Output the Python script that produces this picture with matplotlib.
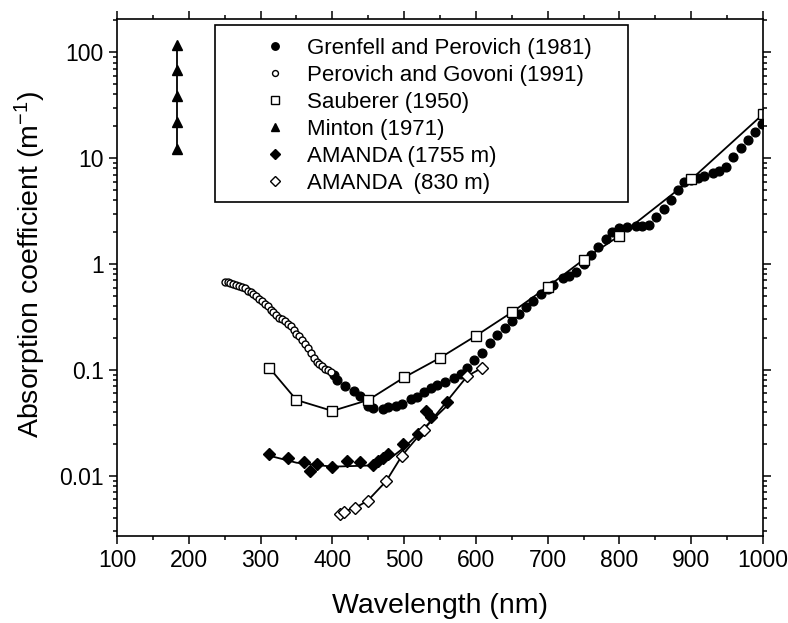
import matplotlib
matplotlib.use("Agg")
import matplotlib.pyplot as plt
from matplotlib.patches import Rectangle
from matplotlib.ticker import FixedLocator, LogLocator, MultipleLocator, NullFormatter

plt.rcParams["font.family"] = ["Liberation Sans", "DejaVu Sans"]
plt.rcParams["mathtext.default"] = "regular"

# Grenfell and Perovich (1981), filled circles
grenfell_nm = [402, 407, 418, 430, 439, 449, 457, 470, 478, 488, 497, 509, 518, 527, 537,
               546, 557, 569, 579, 588, 598, 609, 619, 630, 640, 650, 660, 670, 680, 690,
               700, 708, 721, 729, 739, 750, 760, 770, 781, 790, 799, 811, 823, 832, 841,
               851, 862, 872, 881, 890, 899, 909, 918, 930, 939, 948, 958, 969, 979, 989, 998]
grenfell_abs = [0.090, 0.081, 0.070, 0.063, 0.057, 0.046, 0.044, 0.043, 0.045, 0.046, 0.048,
                0.053, 0.056, 0.062, 0.067, 0.072, 0.077, 0.083, 0.091, 0.105, 0.125, 0.146,
                0.18, 0.216, 0.25, 0.29, 0.34, 0.39, 0.45, 0.52, 0.58, 0.64, 0.73, 0.77, 0.85,
                1.01, 1.23, 1.46, 1.74, 2.0, 2.2, 2.25, 2.3, 2.3, 2.35, 2.8, 3.3, 4.0, 5.0, 5.9,
                6.2, 6.5, 6.8, 7.3, 7.6, 8.3, 10.3, 12.5, 14.9, 17.6, 21.0]

# Perovich and Govoni (1991), open circles
perovich_nm = [250, 254, 258, 262, 266, 270, 274, 278, 282, 286, 290, 294, 298, 302, 306,
               310, 314, 318, 322, 326, 330, 334, 338, 342, 346, 350, 354, 358, 362, 366,
               370, 374, 378, 382, 386, 390, 394, 398]
perovich_abs = [0.68, 0.67, 0.66, 0.65, 0.64, 0.62, 0.61, 0.59, 0.56, 0.54, 0.52, 0.50, 0.47,
                0.45, 0.42, 0.40, 0.37, 0.35, 0.33, 0.31, 0.30, 0.29, 0.27, 0.26, 0.24, 0.22,
                0.21, 0.19, 0.175, 0.16, 0.145, 0.13, 0.12, 0.114, 0.108, 0.103, 0.099, 0.095]

# Sauberer (1950), open squares joined by a line
sauberer_nm = [312, 350, 400, 450, 500, 550, 600, 650, 700, 750, 800, 900, 1000]
sauberer_abs = [0.105, 0.052, 0.041, 0.052, 0.085, 0.13, 0.21, 0.35, 0.61, 1.1, 1.85, 6.3, 26.0]

# Minton (1971), triangles at a single wavelength
minton_nm = [184, 184, 184, 184, 184]
minton_abs = [116, 67.7, 38.5, 21.9, 12.2]

# AMANDA (1755 m), filled diamonds and model curve
amanda1755_nm = [312, 338, 360, 369, 379, 400, 421, 438, 457, 464, 471, 477, 499, 520, 530, 537, 560]
amanda1755_abs = [0.0162, 0.0148, 0.0135, 0.0112, 0.0128, 0.0121, 0.0139, 0.0135, 0.0127,
                  0.0137, 0.0148, 0.016, 0.020, 0.025, 0.041, 0.036, 0.050]
fit1755_nm = [312, 350, 400, 450, 480, 500, 520, 540, 560]
fit1755_abs = [0.0155, 0.0133, 0.0122, 0.0125, 0.0145, 0.0185, 0.025, 0.034, 0.046]

# AMANDA (830 m), open diamonds joined by a line
amanda830_nm = [411, 416, 432, 449, 475, 497, 527, 588, 609]
amanda830_abs = [0.0044, 0.0046, 0.0050, 0.0058, 0.0089, 0.0155, 0.027, 0.0875, 0.105]

fig = plt.figure(figsize=(7.88, 6.23), dpi=100)
ax = fig.add_axes([0.1485, 0.1396, 0.8198, 0.8299])

K = "black"
ax.plot(sauberer_nm, sauberer_abs, "-", color=K, lw=1.3)
ax.plot(minton_nm, minton_abs, "-", color=K, lw=1.3)
ax.plot(fit1755_nm, fit1755_abs, "-", color=K, lw=1.3)
ax.plot(amanda830_nm, amanda830_abs, "-", color=K, lw=1.3)

ax.plot(grenfell_nm, grenfell_abs, "o", ms=6.3, mfc=K, mec=K, ls="none",
        label="Grenfell and Perovich (1981)")
ax.plot(perovich_nm, perovich_abs, "o", ms=5, mfc="white", mec=K, mew=1.0, ls="none",
        label="Perovich and Govoni (1991)")
ax.plot(sauberer_nm, sauberer_abs, "s", ms=6.5, mfc="white", mec=K, mew=1.0, ls="none",
        label="Sauberer (1950)")
ax.plot(minton_nm, minton_abs, "^", ms=7.5, mfc=K, mec=K, ls="none",
        label="Minton (1971)")
ax.plot(amanda1755_nm, amanda1755_abs, "D", ms=6.3, mfc=K, mec=K, ls="none",
        label="AMANDA (1755 m)")
ax.plot(amanda830_nm, amanda830_abs, "D", ms=6.3, mfc="white", mec=K, mew=1.0, ls="none",
        label="AMANDA  (830 m)")

ax.set_yscale("log")
ax.set_xlim(100, 1000)
ax.set_ylim(0.0027, 206)

ax.xaxis.set_major_locator(MultipleLocator(100))
ax.xaxis.set_minor_locator(MultipleLocator(50))
ax.yaxis.set_major_locator(FixedLocator([0.01, 0.1, 1, 10, 100]))
ax.set_yticklabels(["0.01", "0.1", "1", "10", "100"])
ax.yaxis.set_minor_locator(LogLocator(base=10, subs=range(2, 10)))
ax.yaxis.set_minor_formatter(NullFormatter())

ax.tick_params(which="both", direction="out", top=True, right=True, width=1.1,
               labelsize=16.5, colors=K, pad=4)
ax.tick_params(which="major", length=5.5)
ax.tick_params(which="minor", length=3)
for s in ax.spines.values():
    s.set_linewidth(1.2)
    s.set_color(K)

ax.set_xlabel("Wavelength (nm)", fontsize=20.5, labelpad=15)
ax.set_ylabel("Absorption coefficient (m$^{-1}$)", fontsize=20.5, labelpad=8)
ax.yaxis.label.set_y(0.526)

# legend box drawn separately so its width can match the original
ax.add_patch(Rectangle((0.1517, 0.646), 0.639, 0.342, transform=ax.transAxes,
                       fill=False, edgecolor=K, lw=1.2, zorder=5))
ax.legend(loc="upper left", bbox_to_anchor=(0.198, 0.979), borderaxespad=0,
          fontsize=16, frameon=False, handlelength=2.0, handletextpad=0.44,
          labelspacing=0.27, borderpad=0.35, numpoints=1, markerscale=0.85)

fig.savefig("out.png", dpi=100)
